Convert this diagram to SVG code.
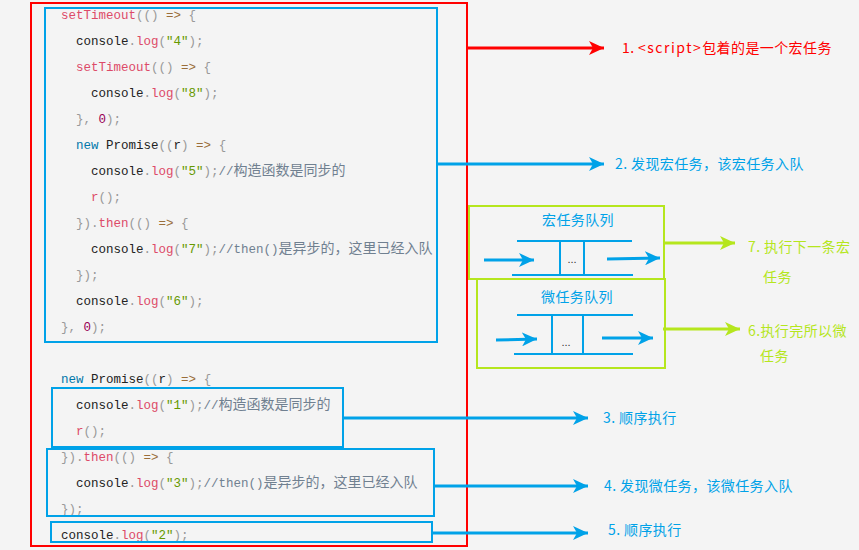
<svg xmlns="http://www.w3.org/2000/svg" width="859" height="550" viewBox="0 0 859 550">
<style>
.code{font-family:"Liberation Mono","DejaVu Sans Mono",monospace;font-size:12.5px;fill:#222;}
.p{fill:#999}.f{fill:#dd4a68}.k{fill:#0077aa}.s{fill:#669900}.n{fill:#990055}.o{fill:#9a6e3a}
.c{fill:#708090;font-family:"Noto Sans CJK SC","Noto Sans",sans-serif;font-size:14px}
.cm{fill:#708090}
.lbl{font-family:"Noto Sans CJK SC","Noto Sans",sans-serif;font-size:14px;letter-spacing:0.4px}
.blue{fill:none;stroke:#00a2e8;stroke-width:2}
.green{fill:none;stroke:#b5e61d;stroke-width:2}
.ab{stroke:#00a2e8;stroke-width:3;fill:none}
.ag{stroke:#b5e61d;stroke-width:3;fill:none}
.ar{stroke:#ff0000;stroke-width:3;fill:none}
.q{stroke:#00a2e8;stroke-width:2;fill:none}
</style>
<defs>
<marker id="hb" markerUnits="userSpaceOnUse" markerWidth="16" markerHeight="14" refX="15" refY="7" orient="auto"><path d="M0,0 L15,7 L0,14 L4,7 Z" fill="#00a2e8"/></marker>
<marker id="hg" markerUnits="userSpaceOnUse" markerWidth="16" markerHeight="14" refX="15" refY="7" orient="auto"><path d="M0,0 L15,7 L0,14 L4,7 Z" fill="#b5e61d"/></marker>
<marker id="hr" markerUnits="userSpaceOnUse" markerWidth="16" markerHeight="14" refX="15" refY="7" orient="auto"><path d="M0,0 L15,7 L0,14 L4,7 Z" fill="#ff0000"/></marker>
</defs>
<rect x="0" y="0" width="859" height="550" fill="#f4f4f4"/>

<g id="code-block">
<rect x="31" y="3" width="436" height="543" fill="none" stroke="#ff0000" stroke-width="2"/>
<g class="code">
<text x="61" y="19"><tspan class="f">setTimeout</tspan><tspan class="p">(()</tspan> <tspan class="o">=&gt;</tspan> <tspan class="p">{</tspan></text>
<text x="76" y="45">console<tspan class="p">.</tspan><tspan class="f">log</tspan><tspan class="p">(</tspan><tspan class="s">"4"</tspan><tspan class="p">);</tspan></text>
<text x="76" y="71"><tspan class="f">setTimeout</tspan><tspan class="p">(()</tspan> <tspan class="o">=&gt;</tspan> <tspan class="p">{</tspan></text>
<text x="91" y="97">console<tspan class="p">.</tspan><tspan class="f">log</tspan><tspan class="p">(</tspan><tspan class="s">"8"</tspan><tspan class="p">);</tspan></text>
<text x="76" y="123"><tspan class="p">},</tspan> <tspan class="n">0</tspan><tspan class="p">);</tspan></text>
<text x="76" y="149"><tspan class="k">new</tspan> Promise<tspan class="p">((</tspan>r<tspan class="p">)</tspan> <tspan class="o">=&gt;</tspan> <tspan class="p">{</tspan></text>
<text x="91" y="175">console<tspan class="p">.</tspan><tspan class="f">log</tspan><tspan class="p">(</tspan><tspan class="s">"5"</tspan><tspan class="p">);</tspan><tspan class="cm">//</tspan><tspan class="c">构造函数是同步的</tspan></text>
<text x="91" y="201"><tspan class="f">r</tspan><tspan class="p">();</tspan></text>
<text x="76" y="227"><tspan class="p">}).</tspan><tspan class="f">then</tspan><tspan class="p">(()</tspan> <tspan class="o">=&gt;</tspan> <tspan class="p">{</tspan></text>
<text x="91" y="253">console<tspan class="p">.</tspan><tspan class="f">log</tspan><tspan class="p">(</tspan><tspan class="s">"7"</tspan><tspan class="p">);</tspan><tspan class="cm">//then()</tspan><tspan class="c">是异步的，这里已经入队</tspan></text>
<text x="76" y="279"><tspan class="p">});</tspan></text>
<text x="76" y="305">console<tspan class="p">.</tspan><tspan class="f">log</tspan><tspan class="p">(</tspan><tspan class="s">"6"</tspan><tspan class="p">);</tspan></text>
<text x="61" y="331"><tspan class="p">},</tspan> <tspan class="n">0</tspan><tspan class="p">);</tspan></text>
<text x="61" y="383"><tspan class="k">new</tspan> Promise<tspan class="p">((</tspan>r<tspan class="p">)</tspan> <tspan class="o">=&gt;</tspan> <tspan class="p">{</tspan></text>
<text x="76" y="409">console<tspan class="p">.</tspan><tspan class="f">log</tspan><tspan class="p">(</tspan><tspan class="s">"1"</tspan><tspan class="p">);</tspan><tspan class="cm">//</tspan><tspan class="c">构造函数是同步的</tspan></text>
<text x="76" y="435"><tspan class="f">r</tspan><tspan class="p">();</tspan></text>
<text x="61" y="461"><tspan class="p">}).</tspan><tspan class="f">then</tspan><tspan class="p">(()</tspan> <tspan class="o">=&gt;</tspan> <tspan class="p">{</tspan></text>
<text x="76" y="487">console<tspan class="p">.</tspan><tspan class="f">log</tspan><tspan class="p">(</tspan><tspan class="s">"3"</tspan><tspan class="p">);</tspan><tspan class="cm">//then()</tspan><tspan class="c">是异步的，这里已经入队</tspan></text>
<text x="61" y="513"><tspan class="p">});</tspan></text>
<text x="61" y="539">console<tspan class="p">.</tspan><tspan class="f">log</tspan><tspan class="p">(</tspan><tspan class="s">"2"</tspan><tspan class="p">);</tspan></text>
</g>
</g>

<g id="box-macro-code"><rect class="blue" x="45" y="8" width="392" height="334"/></g>
<g id="box-sync-1"><rect class="blue" x="52" y="388" width="291" height="59"/></g>
<g id="box-micro-code"><rect class="blue" x="47" y="449" width="387" height="67"/></g>
<g id="box-sync-2"><rect class="blue" x="51" y="522" width="381" height="20"/></g>

<g id="macro-queue">
<rect class="green" x="469" y="206" width="195" height="73"/>
<text class="lbl" x="578" y="225" text-anchor="middle" fill="#00a2e8">宏任务队列</text>
<line class="q" x1="517" y1="241" x2="632" y2="241"/>
<line class="q" x1="512" y1="275" x2="633" y2="275"/>
<line class="q" x1="560" y1="241" x2="560" y2="275"/>
<line class="q" x1="584" y1="241" x2="584" y2="275"/>
<text x="572" y="263" text-anchor="middle" font-family="Liberation Sans,sans-serif" font-size="11" fill="#333">...</text>
<line class="ab" x1="484" y1="260" x2="534" y2="260" marker-end="url(#hb)"/>
<line class="ab" x1="607" y1="259" x2="660" y2="258" marker-end="url(#hb)"/>
</g>

<g id="micro-queue">
<rect class="green" x="477" y="279" width="188" height="89"/>
<text class="lbl" x="577" y="302" text-anchor="middle" fill="#00a2e8">微任务队列</text>
<line class="q" x1="517" y1="315" x2="633" y2="315"/>
<line class="q" x1="514" y1="354" x2="633" y2="354"/>
<line class="q" x1="552" y1="315" x2="552" y2="354"/>
<line class="q" x1="583" y1="315" x2="583" y2="354"/>
<text x="566" y="346" text-anchor="middle" font-family="Liberation Sans,sans-serif" font-size="11" fill="#333">...</text>
<line class="ab" x1="496" y1="340" x2="537" y2="339" marker-end="url(#hb)"/>
<line class="ab" x1="602" y1="338" x2="653" y2="338" marker-end="url(#hb)"/>
</g>

<g id="connectors">
<line class="ar" x1="468" y1="48" x2="604" y2="48" marker-end="url(#hr)"/>
<line class="ab" x1="438" y1="164" x2="604" y2="164" marker-end="url(#hb)"/>
<line class="ab" x1="344" y1="418" x2="588" y2="418" marker-end="url(#hb)"/>
<line class="ab" x1="435" y1="486" x2="588" y2="486" marker-end="url(#hb)"/>
<line class="ab" x1="433" y1="533" x2="588" y2="533" marker-end="url(#hb)"/>
<line class="ag" x1="663" y1="243" x2="735" y2="243" marker-end="url(#hg)"/>
<line class="ag" x1="663" y1="329" x2="740" y2="329" marker-end="url(#hg)"/>
</g>

<g id="labels">
<text class="lbl" x="622" y="53" fill="#ff0000">1. <tspan letter-spacing="1.5px">&lt;script&gt;</tspan>包着的是一个宏任务</text>
<text class="lbl" x="615" y="169" fill="#00a2e8">2. 发现宏任务，该宏任务入队</text>
<text class="lbl" x="603" y="423" fill="#00a2e8">3.  顺序执行</text>
<text class="lbl" x="604" y="491" fill="#00a2e8">4. 发现微任务，该微任务入队</text>
<text class="lbl" x="608" y="535" fill="#00a2e8">5. 顺序执行</text>
<text class="lbl" x="748" y="252" fill="#b5e61d">7. 执行下一条宏</text>
<text class="lbl" x="763" y="282" fill="#b5e61d">任务</text>
<text class="lbl" x="748" y="336" fill="#b5e61d">6.执行完所以微</text>
<text class="lbl" x="760" y="361" fill="#b5e61d">任务</text>
</g>
</svg>
